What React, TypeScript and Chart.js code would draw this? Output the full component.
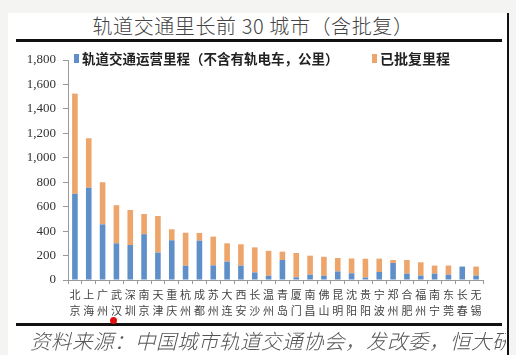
import React, { useEffect, useRef } from "react";
import { Chart, registerables } from "chart.js";

Chart.register(...registerables);

const cities = ["北京", "上海", "广州", "武汉", "深圳", "南京", "天津", "重庆", "杭州", "成都", "苏州", "大连", "西安", "长沙", "温州", "青岛", "厦门", "南昌", "佛山", "昆明", "沈阳", "贵阳", "宁波", "郑州", "合肥", "福州", "南宁", "东莞", "长春", "无锡"];
const operating = [705, 755, 455, 300, 286, 375, 225, 325, 117, 322, 120, 150, 117, 62, 35, 164, 22, 44, 35, 70, 55, 20, 66, 139, 52, 36, 52, 44, 110, 36];
const approved = [820, 405, 345, 312, 287, 165, 299, 90, 270, 63, 235, 150, 175, 205, 204, 68, 199, 155, 155, 110, 121, 154, 109, 25, 112, 109, 66, 74, 0, 74];
const seriesNames = ["轨道交通运营里程（不含有轨电车，公里）", "已批复里程"];
const yMax = 1800;
const yStep = 200;
const title = "轨道交通里长前 30 城市（含批复）";
const source = "资料来源：中国城市轨道交通协会，发改委，恒大研究院";

const BLUE = "#5f8fc8";
const ORANGE = "#eda56b";

export default function App() {
  const ref = useRef<HTMLCanvasElement | null>(null);
  useEffect(() => {
    if (!ref.current) return;
    const chart = new Chart(ref.current, {
      type: "bar",
      data: {
        labels: cities.map((c) => c.split("")),
        datasets: [
          { label: seriesNames[0], data: operating, backgroundColor: BLUE, borderWidth: 0, barPercentage: 0.9, categoryPercentage: 0.45 },
          { label: seriesNames[1], data: approved, backgroundColor: ORANGE, borderWidth: 0, barPercentage: 0.9, categoryPercentage: 0.45 },
        ],
      },
      options: {
        responsive: false,
        animation: false,
        layout: { padding: { left: 0, top: 60, right: 33, bottom: 0 } },
        plugins: { legend: { display: false }, tooltip: { enabled: false } },
        scales: {
          x: {
            stacked: true,
            grid: { display: true, drawOnChartArea: false, offset: true, tickLength: 4, color: "#999" },
            border: { color: "#999" },
            ticks: {
              autoSkip: false,
              maxRotation: 0,
              minRotation: 0,
              padding: 3,
              color: "#444",
              font: { family: "'Noto Sans CJK SC'", size: 11, lineHeight: 1.42 },
            },
            afterFit: (s: any) => { s.height = 75; },
          },
          y: {
            stacked: true,
            min: 0,
            max: yMax,
            ticks: {
              stepSize: yStep,
              padding: 7,
              color: "#333",
              font: { family: "'Liberation Serif'", size: 13 },
              callback: (v: any) => Number(v).toLocaleString("en-US"),
            },
            grid: { drawOnChartArea: false, tickLength: 5, color: "#999" },
            border: { color: "#999" },
            afterFit: (s: any) => { s.width = 68; },
          },
        },
      },
    });
    return () => chart.destroy();
  }, []);

  const abs = (o: any) => ({ position: "absolute" as const, ...o });
  return (
    <div style={{ position: "fixed", left: 0, top: 0, width: 516, height: 355, background: "#f4f4f2", overflow: "hidden" }}>
      <div style={abs({ left: 8, top: 13, width: 500, height: 342, background: "#fff" })} />
      <div style={abs({ left: 507, top: 13, width: 2, height: 342, background: "#111" })} />
      <div style={abs({ left: 8, top: 13, width: 490, height: 26, lineHeight: "26px", textAlign: "center", fontSize: 20, fontWeight: 300, letterSpacing: 0.6, color: "#444", fontFamily: "'Noto Sans CJK SC', sans-serif", whiteSpace: "nowrap" })}>{title}</div>
      <div style={abs({ left: 16, top: 39, width: 486, height: 3, background: "#111" })} />
      <canvas ref={ref} width={516} height={355} style={abs({ left: 0, top: 0, width: 516, height: 355 })} />
      <div style={abs({ left: 74, top: 50, height: 16, display: "flex", alignItems: "center", fontFamily: "'Noto Sans CJK SC', sans-serif", fontSize: 13.5, fontWeight: "bold", color: "#222", whiteSpace: "nowrap" })}>
        <span style={{ display: "inline-block", width: 5, height: 9, background: BLUE, marginRight: 3 }} />
        <span>{seriesNames[0]}</span>
      </div>
      <div style={abs({ left: 372, top: 50, height: 16, display: "flex", alignItems: "center", fontFamily: "'Noto Sans CJK SC', sans-serif", fontSize: 14, fontWeight: "bold", color: "#222", whiteSpace: "nowrap" })}>
        <span style={{ display: "inline-block", width: 5, height: 9, background: ORANGE, marginRight: 3 }} />
        <span>{seriesNames[1]}</span>
      </div>
      <div style={abs({ left: 16, top: 323, width: 486, height: 3, background: "#111" })} />
      <div style={abs({ left: 110, top: 317, width: 7, height: 7, borderRadius: 4, background: "#e01010" })} />
      <div style={abs({ left: 30, top: 327, width: 476, height: 26, lineHeight: "26px", overflow: "hidden", fontSize: 20.5, fontWeight: 300, fontStyle: "italic", letterSpacing: 0.5, color: "#555", fontFamily: "'Noto Sans CJK SC', sans-serif", whiteSpace: "nowrap" })}>{source}</div>
    </div>
  );
}
